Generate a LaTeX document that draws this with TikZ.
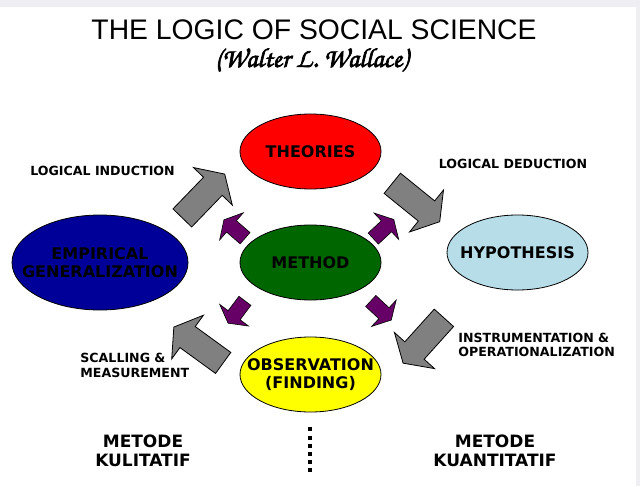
\documentclass[tikz,border=0pt]{standalone}
\usepackage{fontspec}
\setmainfont{Liberation Sans}
\newfontfamily\verdfont{DejaVu Sans}
\newfontfamily\brushfont[FakeBold=2.5]{TeX Gyre Chorus}
\usetikzlibrary{shapes.geometric}
\definecolor{band}{HTML}{EEEEF3}
\definecolor{theored}{HTML}{FF0000}
\definecolor{methgreen}{HTML}{006600}
\definecolor{empblue}{HTML}{000099}
\definecolor{hypblue}{HTML}{B7DEE8}
\definecolor{obsyellow}{HTML}{FFFF00}
\definecolor{arrowgray}{HTML}{808080}
\definecolor{arrowpurple}{HTML}{660066}

\begin{document}
\begin{tikzpicture}[x=0.5pt,y=-0.5pt,
    oval/.style={draw,ellipse,line width=0.4pt,inner sep=0pt,minimum width=70.5pt,minimum height=37.5pt},
    ovaltext/.style={font=\verdfont\bfseries\fontsize{8}{9.3}\selectfont,align=center,inner sep=0pt},
    lbl/.style={font=\verdfont\bfseries\fontsize{6.3}{7.4}\selectfont,inner sep=0pt},
    method/.style={font=\verdfont\bfseries\fontsize{8.5}{9.5}\selectfont,align=center,inner sep=0pt},
    pics/grayarrow/.style={code={
      \filldraw[draw=black,line width=0.4pt,fill=arrowgray] (-30.5,-13) -- (13.5,-13) -- (13.5,-27)
        -- (30.5,0) -- (13.5,27) -- (13.5,13) -- (-30.5,13) -- cycle;}},
    pics/purplearrow/.style={code={
      \filldraw[draw=black,line width=0.3pt,fill=arrowpurple] (-14,-7.5) -- (4,-7.5) -- (4,-18)
        -- (14,0) -- (4,18) -- (4,7.5) -- (-14,7.5) -- cycle;}}]
  % page and frame
  \fill[band] (0,0) rectangle (640,486);
  \fill[white] (0,7) rectangle (636,486);
  \useasboundingbox (0,0) rectangle (640,486);

  \node[font=\fontsize{14.15}{17}\selectfont,inner sep=0pt] (title) at (314,29.5) {THE LOGIC OF SOCIAL SCIENCE};
  \node[font=\brushfont\fontsize{13.6}{16}\selectfont,inner sep=0pt] (author) at (311.5,60) {(Walter L. Wallace)};

  % the five stages
  \node[oval,fill=theored,label={[ovaltext]center:THEORIES}] (theo) at (310.5,151.5) {};
  \node[oval,fill=methgreen,label={[ovaltext]center:METHOD}] (meth) at (310.5,262.5) {};
  \node[oval,fill=empblue,minimum width=88pt,minimum height=47.5pt,
        label={[ovaltext]center:{EMPIRICAL\\GENERALIZATION}}] (emp) at (100,262.5) {};
  \node[oval,fill=hypblue,label={[ovaltext]center:HYPOTHESIS}] (hyp) at (517.5,252.5) {};
  \node[oval,fill=obsyellow,label={[ovaltext]center:{OBSERVATION\\(FINDING)}}] (obs) at (310.5,374.5) {};

  % big gray arrows round the wheel
  \pic (induct) [rotate=46] at (203.5,196) {grayarrow};
  \pic (deduct) [rotate=-39] at (416,202.5) {grayarrow};
  \pic (instr) [rotate=-132] at (423.5,340.5) {grayarrow};
  \pic (scal) [rotate=144] at (198.5,345) {grayarrow};

  % small purple arrows out of METHOD
  \pic (m-ul) [rotate=139] at (234.5,229) {purplearrow};
  \pic (m-ur) [rotate=43] at (383.5,229) {purplearrow};
  \pic (m-ll) [rotate=-127] at (236.5,312) {purplearrow};
  \pic (m-lr) [rotate=-43] at (381,310.5) {purplearrow};

  \node[lbl] (induct-t) at (102.5,171) {LOGICAL INDUCTION};
  \node[lbl] (deduct-t) at (513,164) {LOGICAL DEDUCTION};
  \node[lbl,align=left,anchor=west] (scal-t) at (80,365.5) {SCALLING \&\\MEASUREMENT};
  \node[lbl,align=left,anchor=west] (instr-t) at (458,345) {INSTRUMENTATION \&\\OPERATIONALIZATION};

  \node[method] (kual) at (143,450.5) {METODE\\KULITATIF};
  \node[method] (kuan) at (495,450.5) {METODE\\KUANTITATIF};
  \coordinate (sep-top) at (310,427.3);
  \coordinate (sep-bot) at (310,472.3);
  \draw[line width=2pt,dash pattern=on 2pt off 2.1pt] (sep-top) -- (sep-bot);
\end{tikzpicture}
\end{document}
